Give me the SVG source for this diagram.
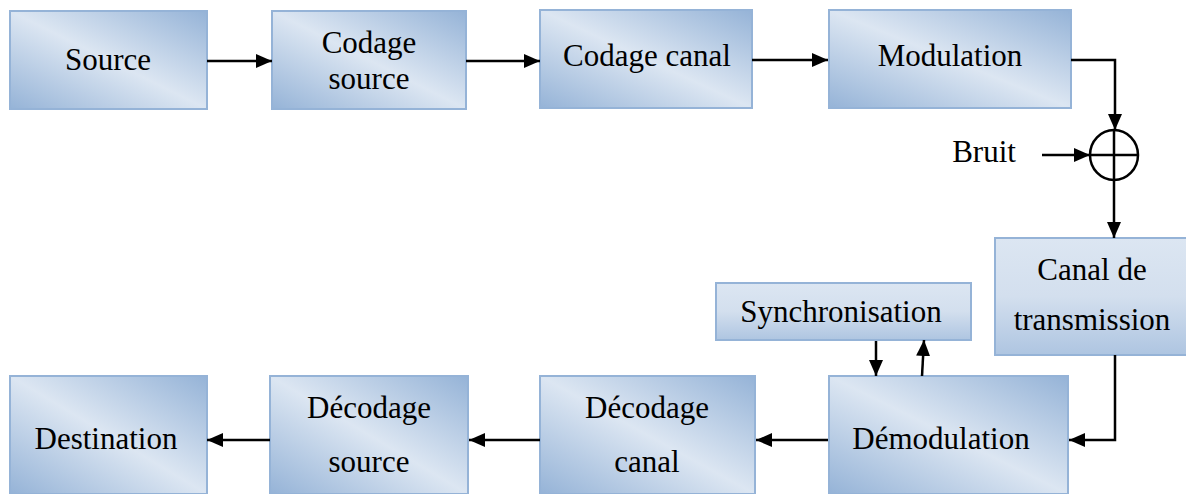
<svg xmlns="http://www.w3.org/2000/svg" width="1186" height="494" viewBox="0 0 1186 494">
<style>
.box{stroke:#95b3d7;stroke-width:2}
.d{fill:url(#gd)}
.v{fill:url(#gv)}
text{font-family:"Liberation Serif","Times New Roman",serif;font-size:31px;fill:#000;text-anchor:middle}
.c{fill:none;stroke:#000;stroke-width:2.5}
</style>
<defs>
<linearGradient id="gd" x1="1" y1="0" x2="0" y2="1">
<stop offset="0" stop-color="#95b3d7"/>
<stop offset="0.5" stop-color="#dce6f2"/>
<stop offset="1" stop-color="#95b3d7"/>
</linearGradient>
<linearGradient id="gv" x1="0" y1="0" x2="0" y2="1">
<stop offset="0" stop-color="#dce6f2"/>
<stop offset="0.5" stop-color="#d3dfee"/>
<stop offset="1" stop-color="#aec5e1"/>
</linearGradient>
<marker id="ah" markerUnits="userSpaceOnUse" markerWidth="16" markerHeight="14" refX="16" refY="7" orient="auto">
<path d="M0,0 L16,7 L0,14 Z" fill="#000"/>
</marker>
</defs>
<g id="source"><rect class="box d" x="10" y="11" width="197" height="98"/><text x="108" y="70">Source</text></g>
<g id="codage-source"><rect class="box d" x="272" y="11" width="194" height="98"/><text x="369" y="53">Codage</text><text x="369" y="89">source</text></g>
<g id="codage-canal"><rect class="box d" x="540" y="10" width="212" height="98"/><text x="647" y="66">Codage canal</text></g>
<g id="modulation"><rect class="box d" x="829" y="10" width="242" height="98"/><text x="950" y="66">Modulation</text></g>
<g id="sum"><ellipse cx="1114" cy="155" rx="24" ry="25" fill="#fff" stroke="#000" stroke-width="2.5"/><path d="M1090,155 H1138 M1114,130 V180" stroke="#000" stroke-width="2.5"/></g>
<g id="bruit"><text x="984" y="162">Bruit</text></g>
<g id="canal"><rect class="box v" x="995" y="238" width="194" height="117"/><text x="1092" y="280">Canal de</text><text x="1092" y="330">transmission</text></g>
<g id="synchronisation"><rect class="box v" x="716" y="283" width="255" height="57"/><text x="841" y="322">Synchronisation</text></g>
<g id="demodulation"><rect class="box d" x="829" y="376" width="239" height="118"/><text x="941" y="449">Démodulation</text></g>
<g id="decodage-canal"><rect class="box d" x="540" y="376" width="215" height="118"/><text x="647" y="418">Décodage</text><text x="647" y="472">canal</text></g>
<g id="decodage-source"><rect class="box d" x="270" y="376" width="198" height="118"/><text x="369" y="418">Décodage</text><text x="369" y="472">source</text></g>
<g id="destination"><rect class="box d" x="10" y="376" width="197" height="118"/><text x="106" y="449">Destination</text></g>
<g id="connectors">
<path class="c" d="M207,61 H272" marker-end="url(#ah)"/>
<path class="c" d="M466,61 H540" marker-end="url(#ah)"/>
<path class="c" d="M752,60 H828" marker-end="url(#ah)"/>
<path class="c" d="M1071,60 H1115 V130" marker-end="url(#ah)"/>
<path class="c" d="M1042,155 H1090" marker-end="url(#ah)"/>
<path class="c" d="M1114,180 V238" marker-end="url(#ah)"/>
<path class="c" d="M1115,355 V440 H1069" marker-end="url(#ah)"/>
<path class="c" d="M876,341 V376" marker-end="url(#ah)"/>
<path class="c" d="M922,376 L924,340" marker-end="url(#ah)"/>
<path class="c" d="M828,440 H756" marker-end="url(#ah)"/>
<path class="c" d="M540,440 H469" marker-end="url(#ah)"/>
<path class="c" d="M270,440 H207" marker-end="url(#ah)"/>
</g>
</svg>
